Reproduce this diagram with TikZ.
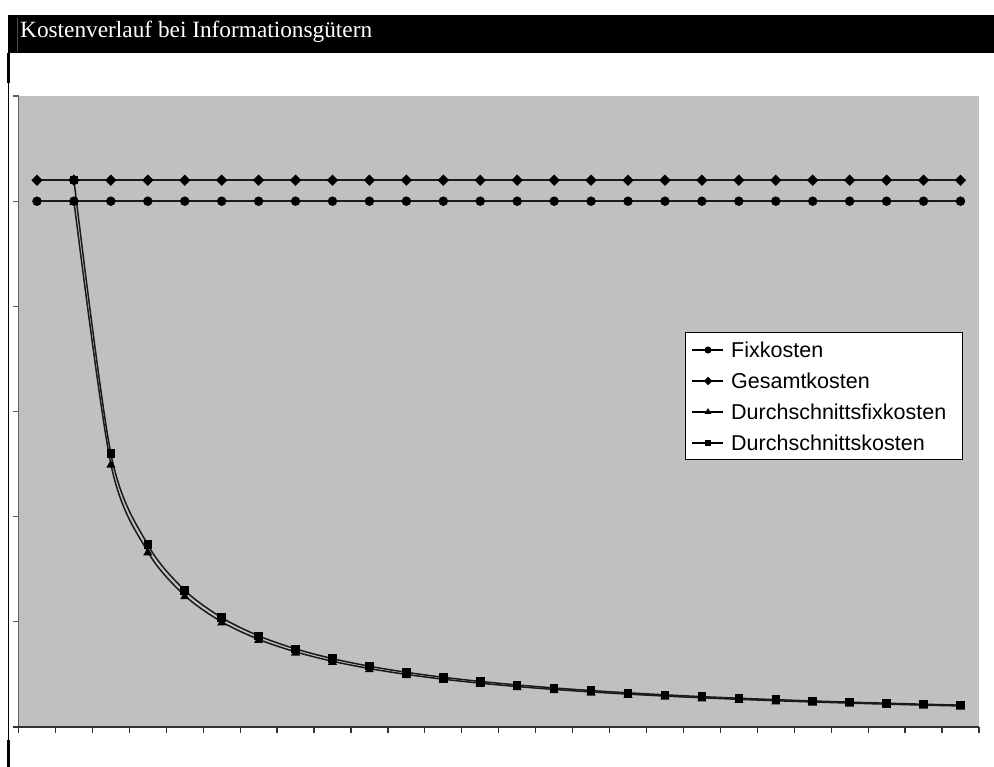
\documentclass[tikz,border=0pt]{standalone}
\usepackage{fontspec}
\setmainfont{Liberation Serif}
\newfontfamily\legfont{Liberation Sans}
\usetikzlibrary{shapes.geometric}
\definecolor{plotgray}{HTML}{C0C0C0}
\definecolor{axisgray}{HTML}{606060}
\definecolor{curvecol}{HTML}{1A1A1A}
\tikzset{
  mcirc/.style={circle,fill=black,draw=none,minimum size=9.5pt,inner sep=0pt},
  mdiam/.style={diamond,fill=black,draw=none,minimum size=11.5pt,inner sep=0pt},
  mtri/.style={regular polygon,regular polygon sides=3,fill=black,draw=none,minimum size=10.5pt,inner sep=0pt},
  msq/.style={rectangle,fill=black,draw=none,minimum size=8.5pt,inner sep=0pt},
  curve/.style={curvecol,line width=1.5pt},
  legtext/.style={anchor=west,inner sep=0pt,font=\legfont\fontsize{21.5}{24}\selectfont}
}
\begin{document}
\begin{tikzpicture}[x=1pt,y=-1pt]
\useasboundingbox (0,0) rectangle (994,767);
% title bar
\fill[black] (8,15) rectangle (994,53);
\draw[gray!60!black,line width=0.6pt] (17,18) -- (17,52);
\node[anchor=base west,inner sep=0pt,text=white,font=\fontsize{23.3}{27}\selectfont] (title) at (20,37.5) {Kostenverlauf bei Informationsgütern};
% left frame line
\draw[black,line width=2.5pt] (8.5,53) -- (8.5,83);
\draw[black,line width=1pt] (8.5,83) -- (8.5,740);
\draw[black,line width=2.5pt] (8.5,740) -- (8.5,767);
% plot area
\fill[plotgray] (18.5,96) rectangle (979,727);
\draw[axisgray,line width=1.5pt] (18.5,96) -- (18.5,727);
\foreach \k in {0,...,6} {
  \draw[axisgray,line width=1.2pt] (13,{96+105.17*\k}) -- (18.5,{96+105.17*\k});
}
\draw[black!80,line width=1.3pt] (13,727) -- (979,727);
\foreach \k in {0,...,26} {
  \draw[black!80,line width=1.2pt] ({18.5+36.94*\k},727) -- ({18.5+36.94*\k},733);
}
% Fixkosten and Gesamtkosten
\draw[curve] ({18.5+36.94*0.5},201.2) -- ({18.5+36.94*25.5},201.2);
\draw[curve] ({18.5+36.94*0.5},180.2) -- ({18.5+36.94*25.5},180.2);
% average curves
\draw[curve] plot[smooth,tension=0.5,samples=25,domain=1:25,variable=\n] ({18.5+36.94*(\n+0.5)},{727-525.83/\n});
\draw[curve] plot[smooth,tension=0.5,samples=25,domain=1:25,variable=\n] ({18.5+36.94*(\n+0.5)},{727-546.87/\n});
\foreach \i in {1,...,26} {
  \node[mcirc] (f\i) at ({18.5+36.94*(\i-0.5)},201.2) {};
  \node[mdiam] (g\i) at ({18.5+36.94*(\i-0.5)},180.2) {};
}
\foreach \n in {1,...,25} {
  \node[mtri] (d\n) at ({18.5+36.94*(\n+0.5)},{727-525.83/\n+1}) {};
  \node[msq] (s\n) at ({18.5+36.94*(\n+0.5)},{727-546.87/\n}) {};
}
% legend
\draw[black,fill=white,line width=0.8pt] (685,332) rectangle (962,459);
\foreach \yy/\sty/\txt [count=\c] in {350/mcirc/Fixkosten,381/mdiam/Gesamtkosten,412/mtri/Durchschnittsfixkosten,443/msq/Durchschnittskosten} {
  \coordinate (la\c) at (692,\yy);
  \coordinate (lb\c) at (723,\yy);
  \draw[black,line width=1.3pt] (la\c) -- (lb\c);
  \node[\sty,scale=0.75] (lm\c) at (708,\yy) {};
  \node[legtext] (lt\c) at (731,\yy) {\txt};
}
\end{tikzpicture}
\end{document}
